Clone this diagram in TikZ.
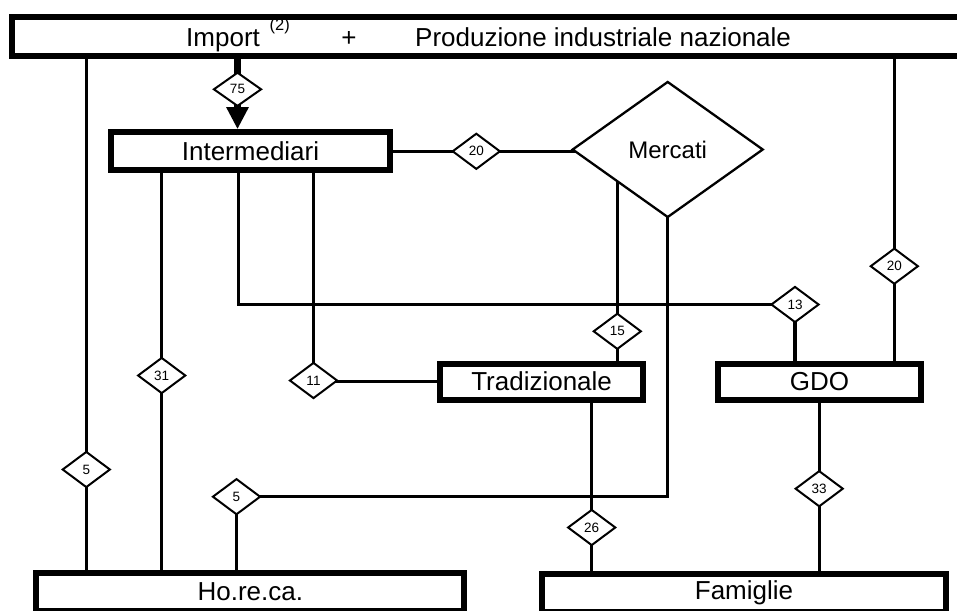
\documentclass[tikz,border=0pt]{standalone}
\usepackage{fontspec}
\setmainfont{Liberation Sans}
\usetikzlibrary{shapes.geometric,arrows.meta,backgrounds}
\begin{document}
\begin{tikzpicture}[x=1pt,y=-1pt,
  box/.style={draw, line width=6pt, fill=white, inner sep=0pt, font=\fontsize{26}{30}\selectfont},
  val/.style={draw, diamond, line width=2pt, fill=white, inner sep=0pt, minimum width=48pt, minimum height=36pt, font=\fontsize{13.5}{15}\selectfont},
  bigdia/.style={draw, diamond, line width=2.3pt, fill=white, inner sep=0pt, minimum width=191pt, minimum height=136pt, font=\fontsize{24}{28}\selectfont},
  conn/.style={line width=3.2pt},
  heavy/.style={line width=7.3pt},
  toptxt/.style={inner sep=0pt, anchor=base west, font=\fontsize{26}{30}\selectfont}
]
\useasboundingbox (0,0) rectangle (957,610);
\clip (0,0) rectangle (957,610);

% boxes
\node[box, minimum width=987.7pt, minimum height=38.7pt] (top) at (506.15,36.35) {};
\node[toptxt] (timport) at (186,46.7) {Import};
\node[inner sep=0pt, anchor=base west, font=\fontsize{16.5}{19}\selectfont] (tsup) at (269.5,30.8) {(2)};
\node[inner sep=0pt, anchor=base, font=\fontsize{26}{30}\selectfont] (tplus) at (349,46.7) {+};
\node[toptxt] (tprod) at (415,46.7) {Produzione industriale nazionale};

\node[box, minimum width=278.6pt, minimum height=38.2pt] (interm) at (250.5,151.3) {Intermediari};
\node[box, minimum width=202.5pt, minimum height=36pt] (trad) at (541.6,381.7) {Tradizionale};
\node[box, minimum width=203.4pt, minimum height=36pt] (gdo) at (819.5,381.7) {GDO};
\node[box, minimum width=428.2pt, minimum height=38pt] (horeca) at (250.3,592) {Ho.re.ca.};
\node[box, minimum width=403.6pt, minimum height=38pt] (fam) at (744,593) {Famiglie};

\node[bigdia] (merc) at (667.7,149.5) {Mercati};

% value diamonds
\node[val, minimum height=34pt] (d75) at (237.5,89.3) {75};
\node[val] (d20a) at (476.3,151.3) {20};
\node[val] (d5a) at (86.3,469.5) {5};
\node[val] (d31) at (161.7,375.5) {31};
\node[val] (d11) at (313.5,380.5) {11};
\node[val] (d5b) at (236.5,496.7) {5};
\node[val] (d15) at (617.3,331.3) {15};
\node[val] (d13) at (795,304.5) {13};
\node[val] (d20b) at (894.3,266.2) {20};
\node[val] (d26) at (591.7,527.5) {26};
\node[val] (d33) at (819.2,488.7) {33};

\begin{scope}[on background layer]
  \draw[heavy, -{Triangle[length=22pt,width=21pt]}] (d75 |- top.center) -- (d75 |- interm.north);
  \draw[conn] (d5a |- top.center) -- (d5a |- horeca.center);
  \draw[conn] (d31 |- interm.center) -- (d31 |- horeca.center);
  \draw[conn] (interm.center |- d20a.center) -- (merc.center |- d20a.center);
  \draw[conn] ([xshift=0.8pt]d75 |- interm.center) -- ([xshift=0.8pt]d75 |- d13.center) -- (d13.center) -- (d13 |- gdo.center);
  \draw[conn] (d11 |- interm.center) -- (d11.center |- trad.center) -- (trad.center);
  \draw[conn] (d15 |- merc.center) -- (d15 |- trad.center);
  \draw[conn] (merc.center) -- (merc.center |- d5b.center) -- (d5b.center) -- (d5b |- horeca.center);
  \draw[conn] (d20b |- top.center) -- (d20b |- gdo.center);
  \draw[conn] (d26 |- trad.center) -- (d26 |- fam.center);
  \draw[conn] (d33 |- gdo.center) -- (d33 |- fam.center);
\end{scope}
\end{tikzpicture}
\end{document}
